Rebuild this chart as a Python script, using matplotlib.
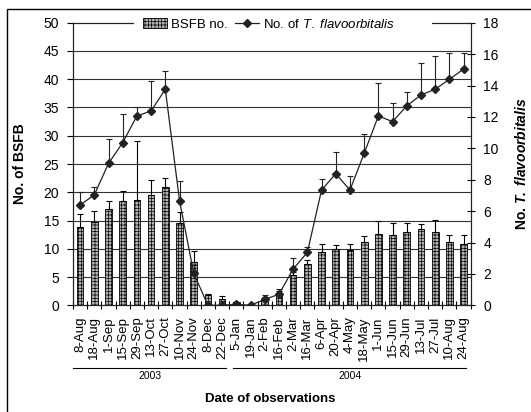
import numpy as np
import matplotlib
matplotlib.use("Agg")
import matplotlib.pyplot as plt
from matplotlib.lines import Line2D
from matplotlib.patches import Rectangle

# datos
fechas = ["8-Aug", "18-Aug", "1-Sep", "15-Sep", "29-Sep", "13-Oct", "27-Oct",
          "10-Nov", "24-Nov", "8-Dec", "22-Dec", "5-Jan", "19-Jan", "2-Feb",
          "16-Feb", "2-Mar", "16-Mar", "6-Apr", "20-Apr", "4-May", "18-May",
          "1-Jun", "15-Jun", "29-Jun", "13-Jul", "27-Jul", "10-Aug", "24-Aug"]
bsfb = [13.8, 14.7, 17.1, 18.4, 18.6, 19.5, 20.9, 14.5, 7.7, 1.8, 1.2, 0.5,
        0.0, 0.9, 2.0, 5.3, 7.3, 9.4, 10.0, 9.7, 11.2, 12.7, 12.4, 13.0, 13.5,
        12.9, 11.2, 10.9]
bsfb_se = [2.3, 1.9, 1.4, 1.9, 10.4, 2.7, 1.7, 2.0, 1.9, 0.2, 0.5, 0.1, 0.0,
           0.6, 0.6, 0.6, 0.8, 1.4, 0.6, 1.2, 1.0, 2.3, 2.1, 1.5, 0.8, 2.2,
           1.2, 1.5]
tflavo = [6.39, 7.03, 9.04, 10.36, 12.06, 12.38, 13.76, 6.66, 2.04, 0.0, 0.0,
          0.06, 0.0, 0.38, 0.70, 2.31, 3.37, 7.34, 8.38, 7.34, 9.68, 12.06,
          11.7, 12.7, 13.4, 13.76, 14.39, 15.05]
tflavo_se = [0.85, 0.52, 1.53, 1.81, 0.59, 1.91, 1.18, 1.26, 0.53, 0.0, 0.0,
             0.05, 0.0, 0.28, 0.32, 0.68, 0.32, 0.68, 1.4, 0.92, 1.21, 2.08,
             1.2, 0.9, 2.05, 2.14, 1.71, 1.05]
anios = ["2003", "2004"]

# estilo
plt.rcParams['font.family'] = ['Liberation Sans', 'DejaVu Sans']
plt.rcParams['mathtext.fontset'] = 'custom'
plt.rcParams['mathtext.it'] = 'Liberation Sans:italic'
plt.rcParams['mathtext.bf'] = 'Liberation Sans:bold'
plt.rcParams['mathtext.bfit'] = 'Liberation Sans:italic:bold'
plt.rcParams['mathtext.rm'] = 'Liberation Sans'
plt.rcParams['hatch.linewidth'] = 0.5
plt.rcParams['hatch.color'] = '#eeeeee'

fig = plt.figure(figsize=(5.31, 4.12), dpi=100)
ax = fig.add_axes([73 / 531, 1 - 305.3 / 412, 397.7 / 531, 282.6 / 412])
ax2 = ax.twinx()

x = np.arange(len(fechas))
neg = np.zeros(len(fechas))

# barras BSFB
barras = ax.bar(x, bsfb, width=0.47, facecolor='#b4b4b4', edgecolor='black',
                linewidth=0.6, hatch='+++++', zorder=2, label='BSFB no.')
ax.errorbar(x, bsfb, yerr=[neg, bsfb_se], fmt='none', ecolor='black',
            elinewidth=0.8, capsize=2.5, capthick=0.8, zorder=3)

# linea T. flavoorbitalis
ax2.errorbar(x, tflavo, yerr=[neg, tflavo_se], fmt='none', ecolor='#222222',
             elinewidth=0.8, capsize=2.5, capthick=0.8, zorder=3)
ax2.plot(x, tflavo, color='#222222', lw=0.9, marker='D', ms=3.8, zorder=4)

# ejes
ax.set_xlim(-0.5, len(fechas) - 0.5)
ax.set_ylim(0, 50)
ax2.set_ylim(0, 18)
ax.set_yticks(np.arange(0, 51, 5))
ax2.set_yticks(np.arange(0, 19, 2))
ax.set_xticks(x)
ax.set_xticklabels(fechas, rotation=90, fontsize=9.5)
ax.set_xticks(np.arange(-0.5, len(fechas), 1), minor=True)
ax.tick_params(axis='x', which='major', length=0, pad=8)
ax.tick_params(axis='x', which='minor', length=6, direction='inout', width=0.8)
ax.tick_params(axis='y', length=4, direction='out', width=0.8, labelsize=10, pad=6)
ax2.tick_params(axis='y', length=6, direction='inout', width=0.8, labelsize=10, pad=6)
for a in (ax, ax2):
    for s in a.spines.values():
        s.set_linewidth(0.8)
        s.set_color('#222222')

# grid
for v in np.arange(5, 50, 5):
    ax.axhline(v, color='#333333', lw=0.8, zorder=1)

# etiquetas
fig.text(20 / 531, 0.602, 'No. of BSFB', rotation=90, ha='center', va='center',
         fontsize=10, fontweight='bold')
fig.text(521 / 531, 0.602, r'No. $\mathbfit{T.}$ $\mathbfit{flavoorbitalis}$', rotation=90,
         ha='center', va='center', fontsize=10, fontweight='bold')
fig.text(270 / 531, 1 - 399 / 412, 'Date of observations', ha='center',
         va='center', fontsize=9.5, fontweight='bold')

# anios
trans = matplotlib.transforms.blended_transform_factory(ax.transData, fig.transFigure)
for nombre, x0, x1 in zip(anios, [-0.5, 10.77], [10.3, 27.2]):
    fig.add_artist(Line2D([x0, x1], [1 - 368 / 412] * 2, transform=trans,
                          color='black', lw=0.8))
    fig.text((x0 + x1) / 2, 1 - 376 / 412, nombre, transform=trans, ha='center',
             va='center', fontsize=7.5)

# fondo blanco de la leyenda sobre el borde superior
fig.add_artist(Rectangle((134 / 531, 1 - 33 / 412), (432 - 134) / 531, 18 / 412,
                         transform=fig.transFigure, facecolor='white',
                         edgecolor='none', zorder=3))

# leyenda
h_linea = Line2D([], [], color='#222222', lw=0.9, marker='D', ms=3.8)
leg = fig.legend([barras, h_linea], ['BSFB no.', r'No. of $\mathit{T.}$ $\mathit{flavoorbitalis}$'],
                 loc='center', bbox_to_anchor=(269 / 531, 1 - 24 / 412), ncol=2,
                 fontsize=9.5, frameon=False, handlelength=1.8,
                 columnspacing=0.6, borderpad=0.1, handletextpad=0.3)

# marco
fig.add_artist(Rectangle((7 / 531, -0.01), 1, 1 - 9 / 412 + 0.01,
                         transform=fig.transFigure, fill=False, lw=1.0,
                         edgecolor='black'))

fig.savefig('out.png', dpi=100)
